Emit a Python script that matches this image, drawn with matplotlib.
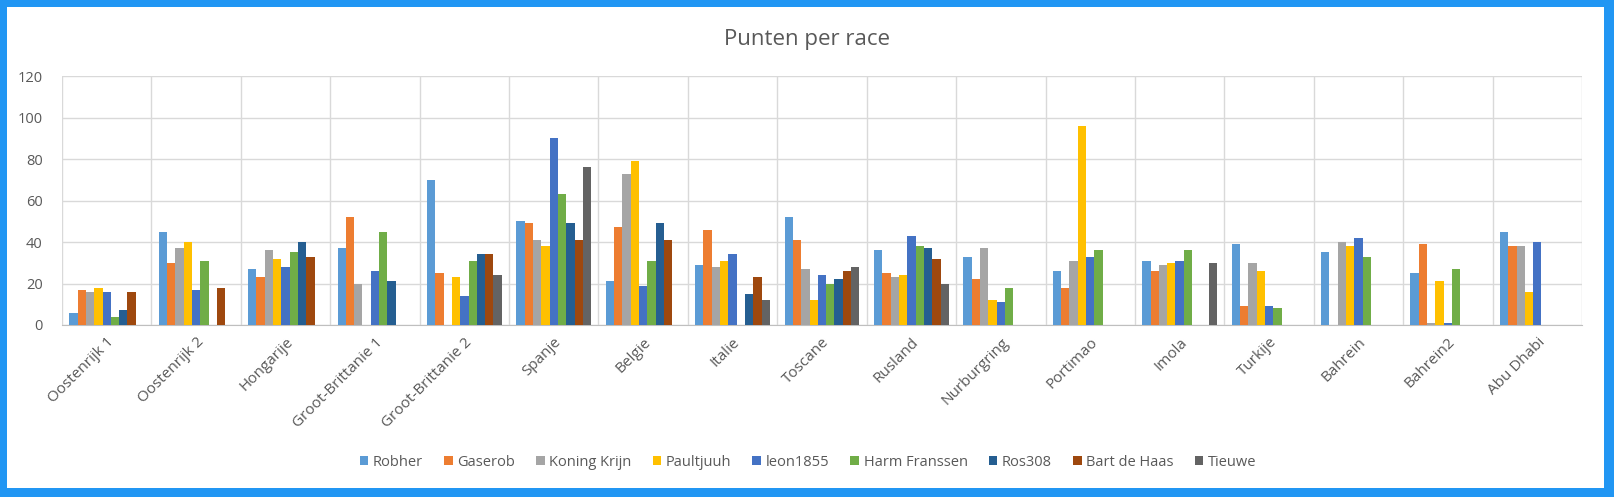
import numpy as np
import matplotlib.pyplot as plt
from matplotlib.patches import Rectangle


races = ['Oostenrijk 1', 'Oostenrijk 2', 'Hongarije', 'Groot-Brittanie 1', 'Groot-Brittanie 2',
         'Spanje', 'Belgie', 'Italie', 'Toscane', 'Rusland', 'Nurburgring', 'Portimao',
         'Imola', 'Turkije', 'Bahrein', 'Bahrein2', 'Abu Dhabi']

players = ['Robher', 'Gaserob', 'Koning Krijn', 'Paultjuuh', 'leon1855',
           'Harm Franssen', 'Ros308', 'Bart de Haas', 'Tieuwe']

robher = [6, 45, 27, 37, 70, 50, 21, 29, 52, 36, 33, 26, 31, 39, 35, 25, 45]
gaserob = [17, 30, 23, 52, 25, 49, 47, 46, 41, 25, 22, 18, 26, 9, 0, 39, 38]
koning_krijn = [16, 37, 36, 20, 0, 41, 73, 28, 27, 23, 37, 31, 29, 30, 40, 1, 38]
paultjuuh = [18, 40, 32, 0, 23, 38, 79, 31, 12, 24, 12, 96, 30, 26, 38, 21, 16]
leon1855 = [16, 17, 28, 26, 14, 90, 19, 34, 24, 43, 11, 33, 31, 9, 42, 1, 40]
harm = [4, 31, 35, 45, 31, 63, 31, 0, 20, 38, 18, 36, 36, 8, 33, 27, 0]
ros308 = [7, 0, 40, 21, 34, 49, 49, 15, 22, 37, 0, 0, 0, 0, 0, 0, 0]
bart = [16, 18, 33, 0, 34, 41, 41, 23, 26, 32, 0, 0, 0, 0, 0, 0, 0]
tieuwe = [0, 0, 0, 0, 24, 76, 0, 12, 28, 20, 0, 0, 30, 0, 0, 0, 0]

series = [robher, gaserob, koning_krijn, paultjuuh, leon1855, harm, ros308, bart, tieuwe]
colors = ['#5B9BD5', '#ED7D31', '#A5A5A5', '#FFC000', '#4472C4',
          '#70AD47', '#255E91', '#9E480E', '#636363']

TEXT = '#595959'

fig = plt.figure(figsize=(16.14, 4.97), dpi=100, facecolor='#2196F3')
# white chart area inside the blue frame
bg = Rectangle((7 / 1614, 9 / 497), 1597 / 1614, 481 / 497,
               transform=fig.transFigure, facecolor='white', edgecolor='none', zorder=-10)
fig.add_artist(bg)

ax = fig.add_axes([62 / 1614, (497 - 325) / 497, 1520 / 1614, 249 / 497])
ax.set_facecolor('white')

x = np.arange(len(races))
width = 0.093
for i, (vals, col, name) in enumerate(zip(series, colors, players)):
    offset = (i - 4) * width
    ax.bar(x + offset, vals, width, color=col, label=name, zorder=3)

ax.set_xlim(-0.5, len(races) - 0.5)
ax.set_ylim(0, 120)
ax.set_yticks(range(0, 121, 20))
ax.set_xticks(x)
ax.set_xticklabels(races, rotation=45, ha='right', rotation_mode='anchor')

# Excel-like grid: horizontal at ticks, vertical at category borders
for b in np.arange(-0.5, len(races), 1.0):
    ax.axvline(b, color='#D9D9D9', lw=1, zorder=1)
ax.yaxis.grid(True, color='#D9D9D9', lw=1, zorder=1)
ax.set_axisbelow(True)

for s in ['top', 'right', 'left']:
    ax.spines[s].set_visible(False)
ax.spines['bottom'].set_color('#BFBFBF')
ax.tick_params(axis='y', length=0, colors=TEXT, labelsize=10.5, pad=14)
ax.tick_params(axis='x', length=0, colors=TEXT, labelsize=11, pad=7)
for lab in ax.get_xticklabels() + ax.get_yticklabels():
    lab.set_family(['Open Sans', 'DejaVu Sans'])

fig.text(0.5, (497 - 39) / 497, 'Punten per race', ha='center', va='center',
         fontsize=16, color=TEXT, family=['Open Sans', 'DejaVu Sans'])

leg = fig.legend(loc='center', bbox_to_anchor=(808 / 1614, (497 - 462) / 497), ncol=9,
                 frameon=False, handlelength=0.6, handleheight=0.6, handletextpad=0.3,
                 columnspacing=1.45, prop={'family': ['Open Sans', 'DejaVu Sans'],
                                           'size': 10.5})
for t in leg.get_texts():
    t.set_color(TEXT)

fig.savefig('out.png', dpi=100, facecolor=fig.get_facecolor())
